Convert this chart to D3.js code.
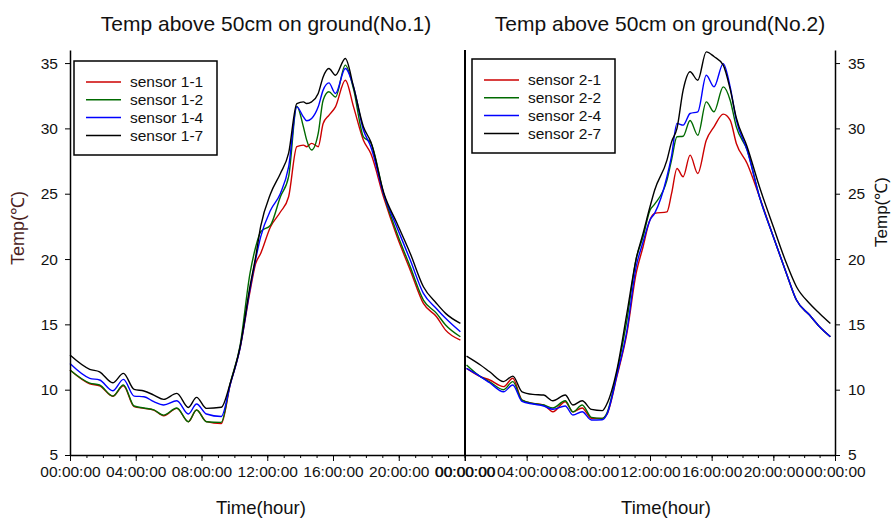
<!DOCTYPE html>
<html>
<head>
<meta charset="utf-8">
<script src="https://cdn.jsdelivr.net/npm/d3@7"></script>
<style>
  body { margin: 0; background: #fff; }
  svg { display: block; font-family: Arial, "Liberation Sans", sans-serif; }
</style>
</head>
<body>
<div id="chart"></div>
<script>
// hours of the day, panel No.1
const hoursL = [0, 1.2, 1.8, 2.6, 3.25, 3.9, 4.5, 5.1, 5.7, 6.5, 7.2, 7.7, 8.3, 9.2, 9.75, 10.35, 10.95, 11.3, 11.6, 12.2, 12.8, 13.3, 13.8, 14.2, 14.4, 14.7, 15.1, 15.4, 15.75, 16.15, 16.75, 17.25, 17.85, 18.3, 19.1, 19.9, 20.7, 21.5, 22.3, 22.85, 23.75];
const s11 = [11.5, 10.45, 10.3, 9.5, 10.3, 8.7, 8.57, 8.44, 8.0, 8.57, 7.55, 8.44, 7.55, 7.4, 10.4, 13.2, 17.5, 19.67, 20.43, 22.47, 23.6, 24.77, 28.6, 28.72, 28.6, 28.85, 28.6, 30.38, 31.0, 31.65, 33.69, 31.65, 29.1, 28.08, 24.64, 21.7, 19.15, 16.6, 15.58, 14.56, 13.8];
const s12 = [11.5, 10.5, 10.36, 9.51, 10.36, 8.75, 8.6, 8.45, 8.05, 8.6, 7.55, 8.45, 7.55, 7.5, 10.5, 13.4, 18.9, 20.94, 22.08, 22.6, 24.77, 26.3, 31.7, 30.12, 29.1, 28.34, 29.61, 32.16, 32.8, 32.4, 34.84, 33.0, 29.36, 28.9, 24.9, 21.96, 19.4, 16.86, 15.84, 14.95, 14.05];
const s14 = [12.0, 10.87, 10.74, 9.92, 10.79, 9.51, 9.46, 9.08, 8.83, 9.15, 8.14, 8.9, 8.14, 7.95, 10.4, 13.2, 17.7, 20.0, 21.7, 23.74, 25.02, 27.06, 31.65, 30.88, 30.58, 30.76, 31.65, 32.93, 33.48, 32.67, 34.58, 33.18, 29.87, 28.6, 24.9, 22.4, 19.92, 17.37, 16.2, 15.46, 14.43];
const s17 = [12.65, 11.56, 11.37, 10.53, 11.25, 10.02, 9.9, 9.59, 9.26, 9.72, 8.64, 9.41, 8.57, 8.65, 10.5, 13.3, 17.9, 20.2, 22.5, 25.0, 26.55, 28.1, 31.9, 32.03, 31.9, 32.03, 32.67, 33.94, 34.58, 34.07, 35.35, 33.18, 30.12, 28.97, 25.02, 22.72, 20.43, 17.88, 16.6, 15.84, 15.07];

// hours of the day, panel No.2
const hoursR = [0.1, 1.0, 1.6, 2.5, 3.1, 3.7, 4.4, 5.1, 5.7, 6.5, 7.0, 7.6, 8.2, 8.9, 9.2, 9.85, 10.5, 11.1, 11.55, 12.0, 12.3, 13.1, 13.4, 13.75, 14.15, 14.6, 15.1, 15.65, 16.15, 16.75, 17.2, 17.6, 18.3, 19.1, 20.0, 20.85, 21.5, 22.35, 23.0, 23.7];
const s21 = [11.63, 11.0, 10.74, 10.23, 10.87, 9.2, 8.95, 8.83, 8.31, 9.08, 8.3, 8.6, 7.8, 7.8, 8.1, 11.0, 14.31, 18.9, 20.94, 23.0, 23.49, 23.61, 25.02, 26.93, 26.3, 27.95, 26.55, 29.1, 30.12, 31.09, 30.63, 28.85, 27.31, 24.77, 21.7, 18.9, 16.86, 15.71, 14.82, 14.05];
const s22 = [11.89, 11.0, 10.6, 10.0, 10.62, 9.2, 8.95, 8.83, 8.6, 9.15, 8.3, 8.83, 7.88, 7.8, 8.2, 11.3, 15.3, 20.0, 21.7, 23.74, 24.2, 26.04, 27.6, 29.36, 29.4, 30.6, 29.48, 32.03, 31.27, 33.18, 32.16, 30.12, 28.34, 24.77, 21.7, 18.9, 16.86, 15.71, 14.82, 14.05];
const s24 = [11.63, 11.0, 10.53, 9.84, 10.36, 9.1, 8.9, 8.75, 8.5, 8.75, 8.06, 8.31, 7.68, 7.7, 8.1, 11.1, 14.5, 19.4, 21.3, 22.98, 23.5, 26.3, 27.9, 30.38, 30.25, 31.14, 31.27, 34.07, 33.18, 34.96, 33.18, 30.63, 28.34, 24.77, 21.7, 18.9, 16.86, 15.71, 14.82, 14.05];
const s27 = [12.57, 11.89, 11.37, 10.62, 11.04, 9.84, 9.64, 9.59, 9.15, 9.59, 8.83, 9.15, 8.49, 8.4, 8.9, 11.5, 15.84, 20.0, 21.96, 24.0, 25.27, 27.57, 28.97, 30.0, 32.93, 34.33, 33.69, 35.86, 35.5, 34.84, 33.0, 30.8, 28.6, 25.53, 22.47, 19.67, 17.88, 16.6, 15.84, 15.07];

const legendL = ["sensor 1-1", "sensor 1-2", "sensor 1-4", "sensor 1-7"];
const legendR = ["sensor 2-1", "sensor 2-2", "sensor 2-4", "sensor 2-7"];
const colors = ["#cc0000", "#006a00", "#0000ff", "#000000"];

const yTicks = [5, 10, 15, 20, 25, 30, 35];
const xMajor = [0, 4, 8, 12, 16, 20, 24];
const xTickLabels = ["00:00:00", "04:00:00", "08:00:00", "12:00:00", "16:00:00", "20:00:00", "00:00:00"];

const width = 893;
const height = 521;

const svg = d3.select("#chart")
    .append("svg")
    .attr("width", width)
    .attr("height", height);

// shared temperature scale
const y = d3.scaleLinear().domain([5, 36]).range([455, 50]);

const xL = d3.scaleLinear().domain([0, 24]).range([70, 464.5]);
const xR = d3.scaleLinear().domain([0, 24]).range([465, 835]);

function drawLines(x, hours, seriesList) {
    const line = d3.line()
        .x(d => x(d[0]))
        .y(d => y(d[1]))
        .curve(d3.curveMonotoneX);

    svg.append("g")
        .selectAll("path")
        .data(seriesList)
        .join("path")
        .attr("fill", "none")
        .attr("stroke", (d, i) => colors[i])
        .attr("stroke-width", 1.4)
        .attr("d", s => line(hours.map((h, i) => [h, s[i]])));
}

function drawXAxis(x) {
    // hourly minor ticks
    svg.append("g")
        .attr("transform", `translate(0,${y(5)})`)
        .call(d3.axisBottom(x).tickValues(d3.range(0, 25)).tickSize(3).tickSizeOuter(0).tickFormat(""))
        .call(g => g.select(".domain").remove());

    svg.append("g")
        .attr("class", "xaxis")
        .attr("transform", `translate(0,${y(5)})`)
        .call(d3.axisBottom(x)
            .tickValues(xMajor)
            .tickSize(6)
            .tickSizeOuter(0)
            .tickPadding(5)
            .tickFormat((d, i) => xTickLabels[i]));
}

function drawLegend(x0, y0, labels) {
    const g = svg.append("g").attr("transform", `translate(${x0},${y0})`);
    g.append("rect")
        .attr("width", 143)
        .attr("height", 94)
        .attr("fill", "#fff")
        .attr("stroke", "#000")
        .attr("stroke-width", 1.5);
    const row = g.selectAll("g.row")
        .data(labels)
        .join("g")
        .attr("class", "row")
        .attr("transform", (d, i) => `translate(0,${21 + i * 17.8})`);
    row.append("line")
        .attr("x1", 12).attr("x2", 47)
        .attr("stroke", (d, i) => colors[i])
        .attr("stroke-width", 1.5);
    row.append("text")
        .attr("x", 56)
        .attr("dy", "0.35em")
        .attr("font-size", 15.5)
        .attr("fill", "#111")
        .text(d => d);
}

// Panel No.1
drawLines(xL, hoursL, [s11, s12, s14, s17]);
drawXAxis(xL);

svg.append("g")
    .attr("transform", `translate(${xL(0)},0)`)
    .call(d3.axisLeft(y).tickValues(yTicks).tickSize(5).tickSizeOuter(0).tickPadding(7));

// Panel No.2
drawLines(xR, hoursR, [s21, s22, s24, s27]);
drawXAxis(xR);

svg.append("line")
    .attr("x1", xR(0)).attr("x2", xR(0))
    .attr("y1", y(36)).attr("y2", y(5))
    .attr("stroke", "#000")
    .attr("stroke-width", 2);

svg.append("g")
    .attr("transform", `translate(${xR(24)},0)`)
    .call(d3.axisRight(y).tickValues(yTicks).tickSize(5).tickSizeOuter(0).tickPadding(8));

svg.selectAll(".tick text").attr("font-size", 15.5).attr("fill", "#111");
svg.selectAll(".domain").attr("stroke-width", 1.5);

drawLegend(74, 61, legendL);
drawLegend(472, 59, legendR);

// titles
svg.append("text")
    .attr("x", 266).attr("y", 31)
    .attr("text-anchor", "middle")
    .attr("font-size", 21)
    .attr("fill", "#111")
    .text("Temp above 50cm on ground(No.1)");
svg.append("text")
    .attr("x", 660).attr("y", 31)
    .attr("text-anchor", "middle")
    .attr("font-size", 21)
    .attr("fill", "#111")
    .text("Temp above 50cm on ground(No.2)");

// axis titles
svg.append("text")
    .attr("x", 261).attr("y", 514)
    .attr("text-anchor", "middle")
    .attr("font-size", 18.5)
    .attr("fill", "#111")
    .text("Time(hour)");
svg.append("text")
    .attr("x", 666).attr("y", 514)
    .attr("text-anchor", "middle")
    .attr("font-size", 18.5)
    .attr("fill", "#111")
    .text("Time(hour)");

svg.append("text")
    .attr("transform", "translate(24,228) rotate(-90)")
    .attr("text-anchor", "middle")
    .attr("font-size", 18)
    .attr("fill", "#4d1f1f")
    .text("Temp(℃)");
svg.append("text")
    .attr("transform", "translate(887,212) rotate(-90)")
    .attr("text-anchor", "middle")
    .attr("font-size", 17)
    .attr("fill", "#111")
    .text("Temp(℃)");
</script>
</body>
</html>
